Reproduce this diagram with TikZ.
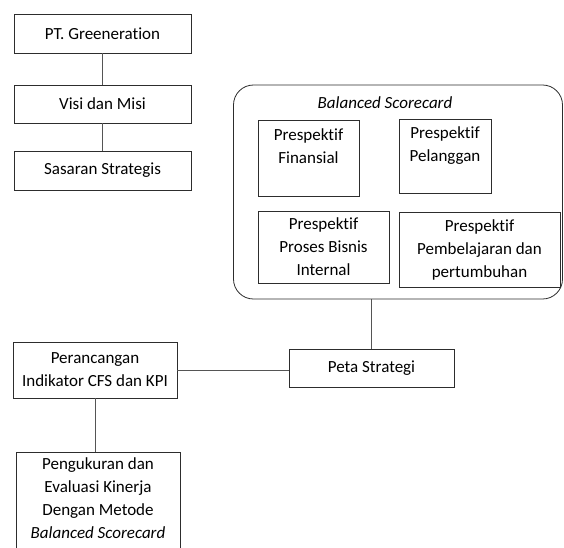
\documentclass[tikz,border=0pt]{standalone}
\usepackage{fontspec}
\setmainfont{Carlito}[Ligatures={NoCommon}]
\usepackage{tikz}
\usetikzlibrary{positioning,calc}
\definecolor{bxLine}{RGB}{45,45,45}
\definecolor{bxLink}{RGB}{85,85,85}
\tikzset{
    base/.style={font=\fontsize{17}{23}\selectfont, align=center, text=black},
    stepbox/.style={base, rectangle, draw=bxLine, thick, fill=white, inner sep=2pt},
    group/.style={rectangle, rounded corners=7mm, draw=bxLine, thick},
    title/.style={base, font=\fontsize{17}{23}\selectfont\itshape},
    link/.style={thick, color=bxLink}
}
\begin{document}
\begin{tikzpicture}[x=1pt, y=-1pt]
  \useasboundingbox (0,0) rectangle (564,547);
  \clip (0,0) rectangle (564,547);

  % Left column
  \node[stepbox, minimum width=177pt, minimum height=39pt] (pt) at (102.5,33.5) {PT. Greeneration};
  \node[stepbox, minimum width=177pt, minimum height=38pt] (visi) at (102.5,104) {Visi dan Misi};
  \node[stepbox, minimum width=177pt, minimum height=39pt] (sasaran) at (102.5,170.5) {Sasaran Strategis};

  % Balanced scorecard group
  \node[group, minimum width=329pt, minimum height=214pt] (bsc) at (398,192) {};
  \node[title] (bsctitle) at (385,103) {Balanced Scorecard};
  \node[stepbox, minimum width=101pt, minimum height=76pt] (finansial) at (308.5,158) {Prespektif\\Finansial\\~};
  \node[stepbox, minimum width=92pt, minimum height=74pt] (pelanggan) at (445,156) {Prespektif\\Pelanggan\\~};
  \node[stepbox, minimum width=131pt, minimum height=72pt] (proses) at (323.5,247) {Prespektif\\Proses Bisnis\\Internal};
  \node[stepbox, minimum width=161pt, minimum height=75pt] (belajar) at (479.5,249.5) {Prespektif\\Pembelajaran dan\\pertumbuhan};

  % Lower part
  \node[stepbox, minimum width=165pt, minimum height=38pt] (peta) at (371.5,368) {Peta Strategi};
  \node[stepbox, minimum width=164pt, minimum height=56pt] (rancang) at (95,370) {Perancangan\\Indikator CFS dan KPI};
  \node[stepbox, anchor=north, minimum width=164pt, minimum height=110pt, inner ysep=5pt] (ukur) at (98,452)
    {Pengukuran dan\\Evaluasi Kinerja\\Dengan Metode\\\textit{Balanced Scorecard}\\~};

  % Connectors
  \draw[link] (pt) -- (visi);
  \draw[link] (visi) -- (sasaran);
  \draw[link] ($(sasaran.east)+(0,-2)$) -- ($(sasaran.east)+(0,-2)$ -| bsc.west);
  \draw[link] (peta.north |- bsc.south) -- (peta.north);
  \draw[link] (rancang.east) -- (rancang.east -| peta.west);
  \draw[link] (rancang.south) -- (rancang.south |- ukur.north);
\end{tikzpicture}
\end{document}
